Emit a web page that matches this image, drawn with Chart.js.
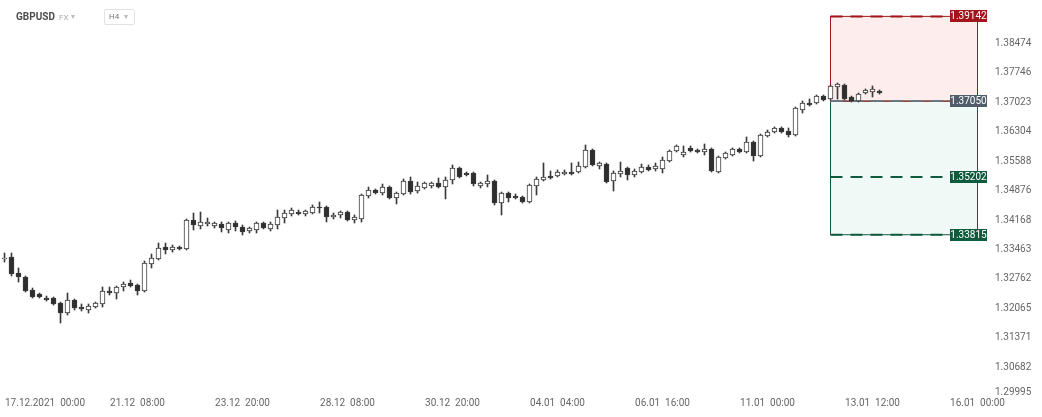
<!DOCTYPE html>
<html>
<head>
<meta charset="utf-8">
<script src="https://cdn.jsdelivr.net/npm/chart.js@4.4.0/dist/chart.umd.min.js"></script>
<style>
  html, body { margin: 0; padding: 0; background: #fff; }
  #wrap { position: relative; width: 1042px; height: 417px; font-family: Roboto, sans-serif; }
  #chart { position: absolute; left: 0; top: 0; }
  .hdr { position: absolute; line-height: 12px; }
  .sym { left: 16px; top: 11px; font-size: 10px; font-weight: bold; color: #4d4d4d; }
  .fx { left: 59px; top: 12px; font-size: 8px; color: #aaa; }
  .caret { font-size: 8px; color: #bbb; }
  .fxc { left: 71px; top: 11px; }
  .tf { left: 104px; top: 9px; width: 25px; height: 14px; border: 1px solid #e2e2e2; border-radius: 2px;
        font-size: 8px; color: #777; line-height: 14px; padding-left: 4px; box-sizing: content-box; }
  .tf .caret { margin-left: 5px; }
</style>
</head>
<body>
<div id="wrap">
  <canvas id="chart" width="1042" height="417"></canvas>
  <div class="hdr sym">GBPUSD</div>
  <div class="hdr fx">FX</div>
  <div class="hdr caret fxc">▾</div>
  <div class="hdr tf">H4<span class="caret">▾</span></div>
</div>
<script>
// GBPUSD H4 candles (oldest first)
const candleOpen = [
  1.33236, 1.33283, 1.32903, 1.32807, 1.32499, 1.32405, 1.32310, 1.32310, 1.32192, 1.31955,
  1.32263, 1.32097, 1.32026, 1.32097, 1.32168, 1.32476, 1.32428, 1.32570, 1.32665, 1.32618,
  1.32476, 1.33117, 1.33236, 1.33522, 1.33450, 1.33522, 1.33474, 1.34168, 1.34024, 1.34072,
  1.34024, 1.34072, 1.33929, 1.34096, 1.34000, 1.33905, 1.33929, 1.34096, 1.33953, 1.34048,
  1.34216, 1.34312, 1.34360, 1.34312, 1.34336, 1.34481, 1.34481, 1.34240, 1.34288, 1.34360,
  1.34168, 1.34192, 1.34745, 1.34889, 1.34817, 1.34962, 1.34697, 1.34793, 1.35107, 1.34865,
  1.34938, 1.34986, 1.35058, 1.34962, 1.35131, 1.35421, 1.35300, 1.35300, 1.34986, 1.35034,
  1.35107, 1.34577, 1.34817, 1.34745, 1.34721, 1.34601, 1.34986, 1.35131, 1.35228, 1.35228,
  1.35276, 1.35324, 1.35324, 1.35445, 1.35858, 1.35470, 1.35518, 1.35107, 1.35276, 1.35421,
  1.35252, 1.35324, 1.35445, 1.35397, 1.35397, 1.35590, 1.35834, 1.35736, 1.35907, 1.35858,
  1.35809, 1.35882, 1.35324, 1.35663, 1.35736, 1.35882, 1.35809, 1.36052, 1.35712, 1.36198,
  1.36295, 1.36393, 1.36320, 1.36223, 1.36833, 1.37003, 1.37003, 1.37175, 1.37102, 1.37396,
  1.37445, 1.37151, 1.37053, 1.37249, 1.37273, 1.37298
];
const candleHigh = [
  1.33379, 1.33379, 1.33022, 1.32831, 1.32547, 1.32428, 1.32357, 1.32334, 1.32215, 1.32428,
  1.32286, 1.32168, 1.32168, 1.32215, 1.32570, 1.32570, 1.32594, 1.32689, 1.32736, 1.32641,
  1.33188, 1.33355, 1.33617, 1.33617, 1.33570, 1.33546, 1.34192, 1.34336, 1.34360, 1.34216,
  1.34120, 1.34120, 1.34120, 1.34144, 1.34048, 1.34000, 1.34120, 1.34120, 1.34120, 1.34408,
  1.34408, 1.34457, 1.34408, 1.34408, 1.34529, 1.34601, 1.34505, 1.34336, 1.34384, 1.34384,
  1.34288, 1.34793, 1.34962, 1.34913, 1.35034, 1.34986, 1.34841, 1.35155, 1.35204, 1.35083,
  1.35083, 1.35083, 1.35179, 1.35204, 1.35494, 1.35445, 1.35324, 1.35324, 1.35083, 1.35252,
  1.35131, 1.34841, 1.34841, 1.34793, 1.34745, 1.35034, 1.35204, 1.35542, 1.35349, 1.35373,
  1.35373, 1.35542, 1.35566, 1.35980, 1.35882, 1.35566, 1.35542, 1.35349, 1.35566, 1.35445,
  1.35397, 1.35518, 1.35494, 1.35542, 1.35688, 1.35858, 1.35980, 1.35955, 1.35955, 1.35882,
  1.36004, 1.35907, 1.35712, 1.35809, 1.35907, 1.35907, 1.36174, 1.36077, 1.36247, 1.36344,
  1.36418, 1.36418, 1.36393, 1.36906, 1.37053, 1.37102, 1.37200, 1.37200, 1.37445, 1.37494,
  1.37470, 1.37175, 1.37249, 1.37347, 1.37421, 1.37323
];
const candleLow = [
  1.33164, 1.32831, 1.32689, 1.32452, 1.32310, 1.32310, 1.32239, 1.32144, 1.31720, 1.31908,
  1.32026, 1.32003, 1.31955, 1.32073, 1.32097, 1.32381, 1.32286, 1.32476, 1.32570, 1.32381,
  1.32452, 1.33022, 1.33212, 1.33355, 1.33402, 1.33450, 1.33450, 1.33929, 1.33953, 1.34024,
  1.33976, 1.33881, 1.33857, 1.33905, 1.33809, 1.33857, 1.33857, 1.33953, 1.33905, 1.33953,
  1.34096, 1.34264, 1.34288, 1.34264, 1.34312, 1.34336, 1.34120, 1.34192, 1.34216, 1.34144,
  1.34096, 1.34120, 1.34697, 1.34793, 1.34769, 1.34673, 1.34553, 1.34769, 1.34793, 1.34817,
  1.34913, 1.34938, 1.34938, 1.34673, 1.35034, 1.35179, 1.35228, 1.34986, 1.34938, 1.34962,
  1.34529, 1.34288, 1.34601, 1.34673, 1.34577, 1.34577, 1.34769, 1.35107, 1.35155, 1.35204,
  1.35252, 1.35252, 1.35300, 1.35421, 1.35470, 1.35397, 1.35058, 1.34865, 1.35204, 1.35131,
  1.35204, 1.35300, 1.35349, 1.35349, 1.35300, 1.35566, 1.35809, 1.35688, 1.35809, 1.35785,
  1.35736, 1.35324, 1.35300, 1.35639, 1.35712, 1.35785, 1.35785, 1.35590, 1.35688, 1.36174,
  1.36271, 1.36271, 1.36174, 1.36198, 1.36759, 1.36930, 1.36979, 1.37053, 1.37077, 1.37102,
  1.37077, 1.37028, 1.37028, 1.37224, 1.37151, 1.37224
];
const candleClose = [
  1.33260, 1.32879, 1.32807, 1.32476, 1.32334, 1.32334, 1.32263, 1.32168, 1.31955, 1.32263,
  1.32073, 1.32050, 1.32121, 1.32192, 1.32476, 1.32428, 1.32570, 1.32641, 1.32594, 1.32476,
  1.33141, 1.33260, 1.33498, 1.33450, 1.33522, 1.33474, 1.34168, 1.34048, 1.34120, 1.34120,
  1.34096, 1.33976, 1.34096, 1.34000, 1.33881, 1.33976, 1.34096, 1.33976, 1.34072, 1.34240,
  1.34336, 1.34408, 1.34312, 1.34384, 1.34481, 1.34457, 1.34240, 1.34288, 1.34360, 1.34168,
  1.34240, 1.34769, 1.34889, 1.34817, 1.34962, 1.34697, 1.34817, 1.35107, 1.34841, 1.34986,
  1.35058, 1.35058, 1.34962, 1.35131, 1.35421, 1.35204, 1.35252, 1.35034, 1.35058, 1.35107,
  1.34577, 1.34817, 1.34697, 1.34697, 1.34601, 1.35010, 1.35155, 1.35204, 1.35179, 1.35324,
  1.35324, 1.35276, 1.35470, 1.35858, 1.35494, 1.35542, 1.35083, 1.35300, 1.35349, 1.35252,
  1.35349, 1.35445, 1.35373, 1.35470, 1.35615, 1.35834, 1.35955, 1.35809, 1.35834, 1.35809,
  1.35882, 1.35349, 1.35688, 1.35785, 1.35882, 1.35809, 1.36052, 1.35712, 1.36223, 1.36295,
  1.36393, 1.36295, 1.36223, 1.36881, 1.37003, 1.36955, 1.37175, 1.37077, 1.37421, 1.37470,
  1.37102, 1.37053, 1.37224, 1.37323, 1.37347, 1.37249
];

// axis ticks
const yTickValues = [1.29995, 1.30682, 1.31371, 1.32065, 1.32762, 1.33463, 1.34168,
                     1.34876, 1.35588, 1.36304, 1.37023, 1.37746, 1.38474];
const xTickIndex = [4, 19, 34, 49, 64, 79, 94, 109, 124, 139];
const xTickLabels = ['17.12.2021  00:00', '21.12  08:00', '23.12  20:00', '28.12  08:00', '30.12  20:00',
                     '04.01  04:00', '06.01  16:00', '11.01  00:00', '13.01  12:00', '16.01  00:00'];

// position tool (short): stop above, target below
const stopLevel = 1.39142;
const entryLevel = 1.37050;
const midLevel = 1.35202;
const targetLevel = 1.33815;
const boxStart = 118;
const boxEnd = 139;

const upColor = '#ffffff';
const downColor = '#2e2e2e';
const edgeColor = '#3a3a3a';
const redDark = '#a0161b';
const greenDark = '#0f5b3d';
const entryGray = '#4e5d69';

const idx = candleOpen.map((_, i) => i);

function levelLine(level) {
  return [{ x: boxStart, y: level }, { x: boxEnd, y: level }];
}
function rectPath(a, b) {
  return [{ x: boxStart, y: a }, { x: boxEnd, y: a }, { x: boxEnd, y: b }, { x: boxStart, y: b }, { x: boxStart, y: a }];
}

const priceTags = [
  { value: stopLevel, color: redDark },
  { value: entryLevel, color: entryGray },
  { value: midLevel, color: greenDark },
  { value: targetLevel, color: greenDark }
];

const tagPlugin = {
  id: 'priceTags',
  afterDatasetsDraw(chart) {
    const ctx = chart.ctx;
    const ys = chart.scales.y;
    const right = chart.chartArea.right - 1;
    ctx.save();
    ctx.font = '10px Roboto';
    ctx.textAlign = 'center';
    ctx.textBaseline = 'middle';
    priceTags.forEach(t => {
      const py = Math.round(ys.getPixelForValue(t.value));
      ctx.fillStyle = t.color;
      ctx.fillRect(right - 37, py - 6, 37, 12);
      ctx.fillStyle = '#ffffff';
      ctx.fillText(t.value.toFixed(5), right - 18.5, py + 0.5);
    });
    ctx.restore();
  }
};

// keep the first date label inside the canvas, lift the lowest price label
const labelNudge = {
  id: 'labelNudge',
  beforeDraw(chart) {
    const xi = chart.scales.x.getLabelItems();
    if (xi.length) {
      xi[0].options.textAlign = 'left';
      xi[0].options.translation[0] = chart.chartArea.left + 5;
    }
    const yi = chart.scales.y.getLabelItems();
    if (yi.length) {
      yi[0].options.translation[1] -= 4;
    }
  }
};

// no extra inset for half-labels at the ends of the axes
function noEdgePadding(s) {
  s.paddingTop = 0;
  s.paddingBottom = 0;
  s.paddingLeft = 0;
  s.paddingRight = 0;
}

const tickFont = { family: 'Roboto', size: 10 };

new Chart(document.getElementById('chart'), {
  type: 'bar',
  data: {
    datasets: [
      {
        label: 'bodies',
        data: idx.map(i => ({ x: i, y: [candleOpen[i], candleClose[i]] })),
        backgroundColor: idx.map(i => candleClose[i] >= candleOpen[i] ? upColor : downColor),
        borderColor: edgeColor,
        borderWidth: 1,
        borderSkipped: false,
        barThickness: 5,
        grouped: false,
        order: 0
      },
      {
        label: 'wicks',
        data: idx.map(i => ({ x: i, y: [candleLow[i], candleHigh[i]] })),
        backgroundColor: edgeColor,
        borderWidth: 0,
        barThickness: 1,
        grouped: false,
        order: 1
      },
      {
        type: 'line', label: 'stop', data: levelLine(stopLevel),
        borderColor: redDark, borderWidth: 2, borderDash: [12, 8], pointRadius: 0,
        fill: { target: { value: entryLevel }, above: 'rgba(240, 80, 80, 0.10)', below: 'rgba(240, 80, 80, 0.10)' },
        order: 5
      },
      {
        type: 'line', label: 'target', data: levelLine(targetLevel),
        borderColor: greenDark, borderWidth: 2, borderDash: [12, 8], pointRadius: 0,
        fill: { target: { value: entryLevel }, above: 'rgba(40, 170, 110, 0.07)', below: 'rgba(40, 170, 110, 0.07)' },
        order: 5
      },
      {
        type: 'line', label: 'redBox', data: rectPath(stopLevel, entryLevel),
        borderColor: redDark, borderWidth: 1, pointRadius: 0, fill: false, order: 4
      },
      {
        type: 'line', label: 'greenBox', data: rectPath(entryLevel, targetLevel),
        borderColor: greenDark, borderWidth: 1, pointRadius: 0, fill: false, order: 4
      },
      {
        type: 'line', label: 'mid', data: levelLine(midLevel),
        borderColor: greenDark, borderWidth: 2, borderDash: [12, 8], pointRadius: 0, fill: false, order: 3
      },
      {
        type: 'line', label: 'entry', data: levelLine(entryLevel),
        borderColor: '#6b7780', borderWidth: 2, borderDash: [12, 8], pointRadius: 0, fill: false, order: 3
      }
    ]
  },
  options: {
    responsive: false,
    animation: false,
    devicePixelRatio: 1,
    layout: { padding: 0 },
    plugins: { legend: { display: false }, tooltip: { enabled: false } },
    scales: {
      x: {
        type: 'linear',
        min: -0.643,
        max: 140.5,
        offset: false,
        grid: { display: false, drawTicks: false },
        border: { display: false },
        afterBuildTicks: s => { s.ticks = xTickIndex.map(v => ({ value: v })); },
        afterFit: s => { s.height = 20; noEdgePadding(s); },
        ticks: {
          autoSkip: false,
          maxRotation: 0,
          padding: 0,
          color: '#666',
          font: tickFont,
          callback: v => xTickLabels[xTickIndex.indexOf(v)]
        }
      },
      y: {
        type: 'logarithmic',
        position: 'right',
        min: 1.29989,
        max: 1.3955,
        grid: { display: false, drawTicks: false },
        border: { display: false },
        afterBuildTicks: s => { s.ticks = yTickValues.map(v => ({ value: v })); },
        afterFit: s => { s.width = 54; noEdgePadding(s); },
        ticks: {
          padding: 7,
          color: '#666',
          font: tickFont,
          callback: v => Number(v).toFixed(5)
        }
      }
    }
  },
  plugins: [labelNudge, tagPlugin]
});
</script>
</body>
</html>
